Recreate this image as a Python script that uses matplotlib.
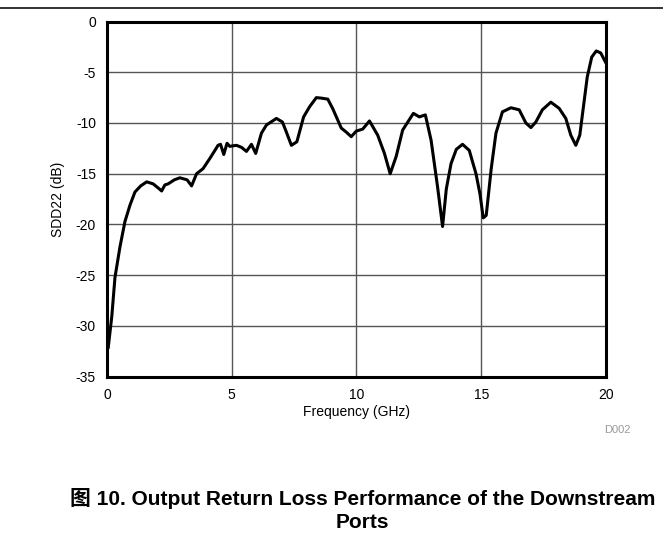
import matplotlib
matplotlib.use('Agg')
import matplotlib.pyplot as plt
from matplotlib.lines import Line2D

plt.rcParams['font.family'] = ['Liberation Sans', 'Noto Sans CJK SC', 'DejaVu Sans']
plt.rcParams['axes.unicode_minus'] = False

# SDD22
freq_ghz = [0.05, 0.19, 0.32, 0.52, 0.72, 0.92, 1.12, 1.35, 1.59, 1.85,
            2.05, 2.19, 2.32, 2.45, 2.7, 2.92, 3.21, 3.39, 3.59, 3.85,
            4.12, 4.3, 4.45, 4.55, 4.68, 4.81, 4.92, 5.19, 5.39, 5.59,
            5.79, 5.96, 6.19, 6.39, 6.79, 7.03, 7.19, 7.39, 7.61, 7.88,
            8.12, 8.39, 8.59, 8.85, 9.05, 9.39, 9.59, 9.79, 9.99, 10.25,
            10.52, 10.85, 11.12, 11.35, 11.59, 11.85, 12.28, 12.52, 12.76, 12.99,
            13.25, 13.45, 13.6, 13.79, 14.0, 14.25, 14.52, 14.79, 14.95, 15.08,
            15.2, 15.4, 15.59, 15.85, 16.19, 16.52, 16.79, 16.99, 17.19, 17.45,
            17.79, 18.12, 18.39, 18.59, 18.79, 18.95, 19.25, 19.43, 19.61, 19.79,
            19.98]
sdd22_db = [-32.1, -29.1, -25.2, -22.2, -19.7, -18.1, -16.8, -16.2, -15.8, -16.0,
            -16.4, -16.7, -16.1, -16.0, -15.6, -15.4, -15.6, -16.2, -15.0, -14.5,
            -13.5, -12.8, -12.2, -12.1, -13.1, -12.0, -12.3, -12.2, -12.4, -12.8,
            -12.1, -13.0, -11.0, -10.2, -9.55, -9.9, -10.9, -12.2, -11.85, -9.4,
            -8.4, -7.5, -7.55, -7.65, -8.6, -10.5, -10.9, -11.35, -10.8, -10.6,
            -9.8, -11.2, -13.0, -15.0, -13.3, -10.7, -9.05, -9.4, -9.2, -11.7,
            -16.3, -20.2, -16.5, -14.0, -12.6, -12.1, -12.7, -15.0, -17.0, -19.35,
            -19.1, -14.5, -11.0, -8.9, -8.5, -8.7, -10.0, -10.45, -9.9, -8.7,
            -7.95, -8.55, -9.55, -11.2, -12.2, -11.2, -5.45, -3.5, -2.9, -3.1,
            -4.0]

x_ticks = [0, 5, 10, 15, 20]
y_ticks = [0, -5, -10, -15, -20, -25, -30, -35]

fig = plt.figure(figsize=(6.63, 5.39), dpi=100)
ax = fig.add_axes([0.1614, 0.3011, 0.7526, 0.659])

ax.plot(freq_ghz, sdd22_db, color='black', lw=2.2, solid_joinstyle='round')
ax.set_xlim(0, 20)
ax.set_ylim(-35, 0)
ax.set_xticks(x_ticks)
ax.set_yticks(y_ticks)
ax.grid(True, color='#555555', lw=1.0)
ax.set_axisbelow(True)
ax.tick_params(length=0, labelsize=10, pad=8)
for s in ax.spines.values():
    s.set_linewidth(2.2)
ax.set_xlabel('Frequency (GHz)', fontsize=10, labelpad=2)
ax.set_ylabel('SDD22 (dB)', fontsize=10, labelpad=8)

fig.add_artist(Line2D([0, 1], [0.986, 0.986], transform=fig.transFigure,
                      color='#222222', lw=1.3))
fig.text(0.931, 0.202, 'D002', color='#999999', fontsize=8, ha='center', va='center')
fig.text(0.547, 0.076, '图 10. Output Return Loss Performance of the Downstream',
         fontsize=15, fontweight='bold', ha='center', va='center')
fig.text(0.547, 0.030, 'Ports', fontsize=15, fontweight='bold', ha='center', va='center')

fig.savefig('out.png', dpi=100)
